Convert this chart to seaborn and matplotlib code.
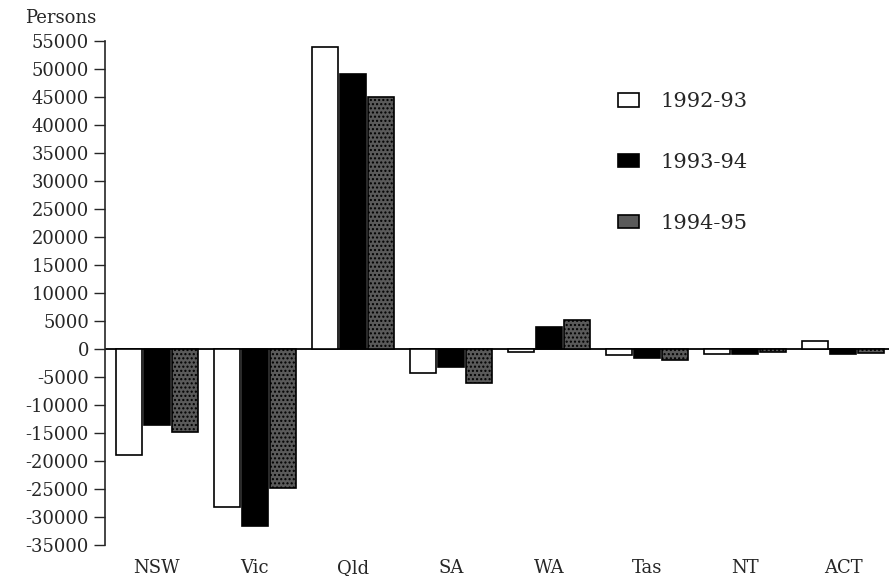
import pandas as pd
import numpy as np
import matplotlib
matplotlib.use('Agg')
import matplotlib.pyplot as plt
import seaborn as sns

# 数据：各州净迁移人数
states = ['NSW', 'Vic', 'Qld', 'SA', 'WA', 'Tas', 'NT', 'ACT']
years = ['1992-93', '1993-94', '1994-95']
v_9293 = [-19000, -28300, 54000, -4300, -600, -1100, -800, 1500]
v_9394 = [-13600, -31700, 49200, -3200, 4000, -1500, -800, -800]
v_9495 = [-14800, -24800, 45000, -6100, 5200, -2000, -600, -700]

df = pd.DataFrame({
    'state': states * 3,
    'year': [years[0]] * 8 + [years[1]] * 8 + [years[2]] * 8,
    'persons': v_9293 + v_9394 + v_9495,
})

sns.set_style('ticks')
plt.rcParams['font.family'] = ['DejaVu Serif']
plt.rcParams['axes.unicode_minus'] = False

fig = plt.figure(figsize=(8.89, 5.76), dpi=100)
ax = fig.add_axes([0.118, 0.054, 0.882, 0.874])

palette = ['white', 'black', '#5a5a5a']
sns.barplot(data=df, x='state', y='persons', hue='year', order=states,
            hue_order=years, palette=palette, edgecolor='black', linewidth=1.2,
            width=0.86, gap=0.06, errorbar=None, ax=ax)

# 第三组加点状纹理
for p in ax.containers[2]:
    p.set_hatch('....')

ax.axhline(0, color='black', lw=1.3, zorder=0)
ax.set_ylim(-35000, 55000)
ax.set_xlim(-0.53, 7.47)
ax.set_yticks(np.arange(-35000, 55001, 5000))
ax.set_yticklabels([str(t) for t in range(-35000, 55001, 5000)], fontsize=13)
ax.tick_params(axis='y', length=8, width=1)
ax.tick_params(axis='x', length=0, pad=10, labelsize=13)
ax.set_xlabel('')
ax.set_ylabel('')
for s in ['top', 'right', 'bottom']:
    ax.spines[s].set_visible(False)
ax.spines['left'].set_linewidth(1.2)

fig.text(0.028, 0.985, 'Persons', va='top', ha='left', fontsize=13)

handles, labels = ax.get_legend_handles_labels()
ax.legend(handles, labels, loc='upper left', bbox_to_anchor=(608 / 889, 1 - 82 / 576),
          bbox_transform=fig.transFigure, frameon=False, fontsize=15, borderpad=0,
          labelspacing=2.0, handlelength=1.0, handleheight=0.6, handletextpad=1.0)

fig.savefig('out.png', dpi=100)
